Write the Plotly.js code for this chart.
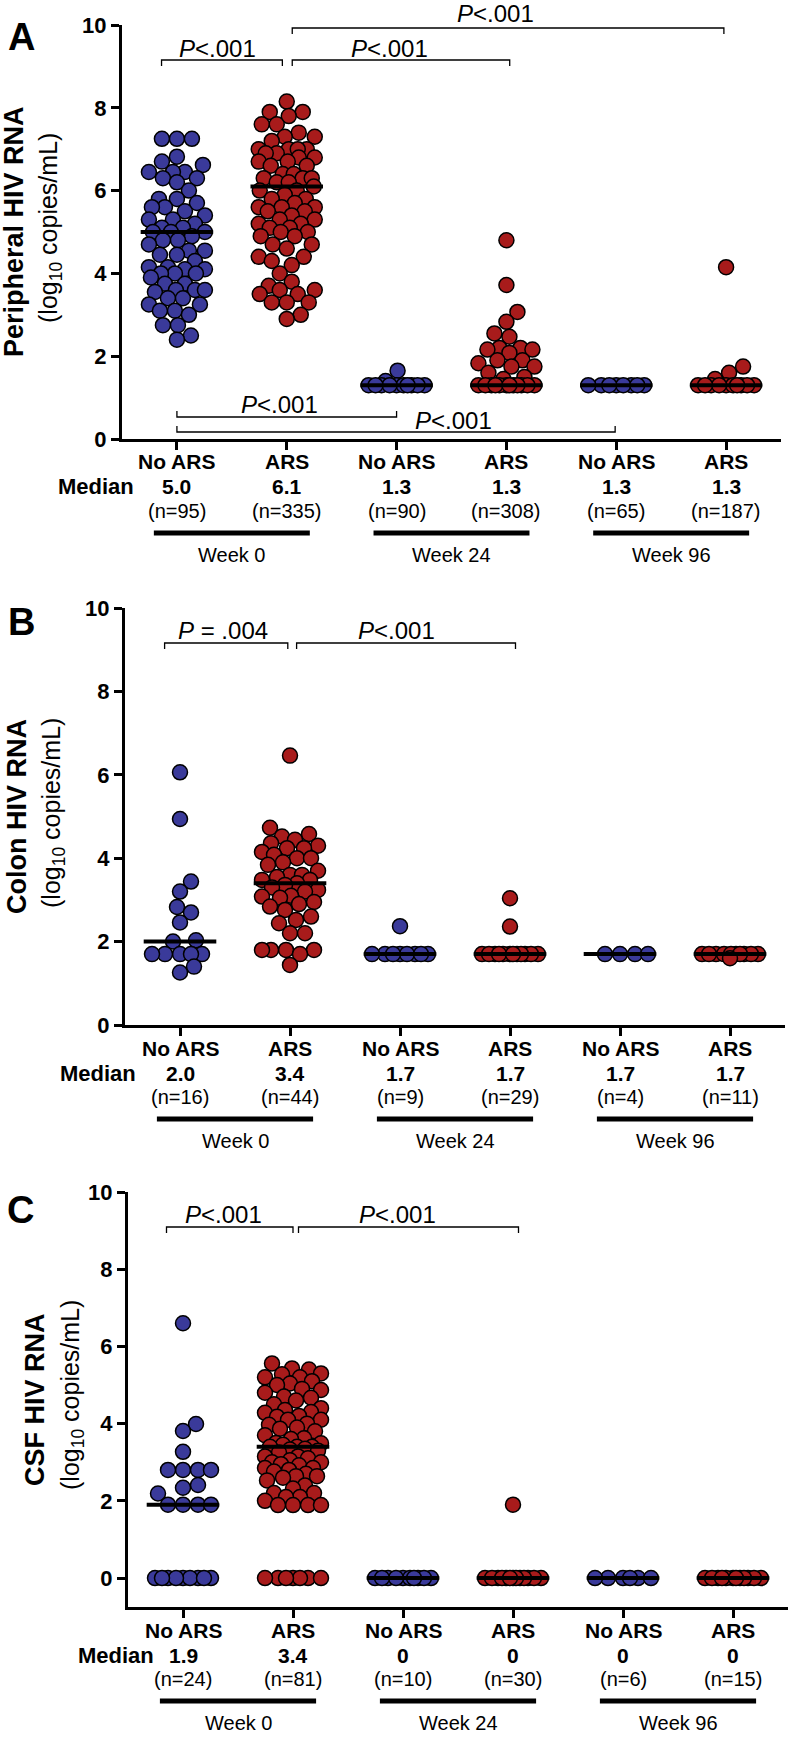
<!DOCTYPE html>
<html>
<head>
<meta charset="utf-8">
<script src="https://cdn.plot.ly/plotly-3.0.1.min.js"></script>
<style>
  body { margin: 0; background: #fff; }
  #chart { width: 792px; height: 1748px; }
</style>
</head>
<body>
<div id="chart"></div>
<script>
// ---- data ----
var categories = ['No ARS', 'ARS', 'No ARS', 'ARS', 'No ARS', 'ARS'];
var weeks = ['Week 0', 'Week 24', 'Week 96'];

// A: peripheral HIV RNA (log10 copies/mL)
var periph_noars_w0 = [7.25, 7.25, 7.25, 6.82, 6.7, 6.62, 6.45, 6.45, 6.45, 6.3, 6.3, 6.2, 6.0, 5.8, 5.8, 5.7,
  5.6, 5.6, 5.5, 5.4, 5.3, 5.3, 5.2, 5.1, 5.1, 5.0, 5.0, 5.0, 4.9, 4.8, 4.8, 4.7, 4.55, 4.55, 4.45, 4.45,
  4.3, 4.15, 4.15, 4.1, 4.1, 4.0, 4.0, 4.0, 3.9, 3.75, 3.75, 3.6, 3.6, 3.6, 3.55, 3.4, 3.4, 3.25, 3.25,
  3.1, 3.1, 3.0, 2.75, 2.75, 2.5, 2.4];
var periph_ars_w0 = [8.15, 7.9, 7.9, 7.8, 7.6, 7.6, 7.4, 7.3, 7.3, 7.2, 7.0, 7.0, 7.0, 7.0, 6.9, 6.9, 6.8, 6.8,
  6.7, 6.7, 6.6, 6.6, 6.4, 6.4, 6.3, 6.3, 6.3, 6.2, 6.2, 6.1, 6.0, 6.0, 5.9, 5.8, 5.8, 5.7, 5.6, 5.6, 5.6,
  5.5, 5.5, 5.4, 5.3, 5.3, 5.2, 5.2, 5.1, 5.1, 5.0, 5.0, 4.9, 4.9, 4.7, 4.7, 4.6, 4.4, 4.4, 4.3, 4.2, 4.0,
  3.8, 3.7, 3.6, 3.6, 3.5, 3.5, 3.3, 3.3, 3.3, 3.0, 2.9];
var periph_noars_w24 = [1.65, 1.4, 1.3, 1.3, 1.3, 1.3, 1.3, 1.3, 1.3, 1.3, 1.3, 1.3];
var periph_ars_w24 = [4.8, 3.72, 3.07, 2.83, 2.55, 2.47, 2.2, 2.2, 2.16, 2.16, 2.08, 1.9, 1.9, 1.83, 1.75, 1.75,
  1.6, 1.5, 1.45, 1.3, 1.3, 1.3, 1.3, 1.3, 1.3, 1.3, 1.3, 1.3, 1.3, 1.3, 1.3];
var periph_noars_w96 = [1.3, 1.3, 1.3, 1.3, 1.3, 1.3, 1.3, 1.3];
var periph_ars_w96 = [4.15, 1.75, 1.6, 1.45, 1.3, 1.3, 1.3, 1.3, 1.3, 1.3, 1.3, 1.3, 1.3, 1.3];
var medianA = [5.0, 6.1, 1.3, 1.3, 1.3, 1.3];
var medianA_txt = ['5.0', '6.1', '1.3', '1.3', '1.3', '1.3'];
var nA = [95, 335, 90, 308, 65, 187];

// B: colon HIV RNA
var colon_noars_w0 = [6.06, 4.94, 3.44, 3.2, 2.83, 2.7, 2.46, 2.03, 2.0, 1.7, 1.7, 1.7, 1.7, 1.7, 1.4, 1.26];
var colon_ars_w0 = [6.46, 4.73, 4.58, 4.52, 4.44, 4.36, 4.3, 4.24, 4.24, 4.15, 4.08, 4.0, 4.0, 3.9, 3.84, 3.7,
  3.6, 3.6, 3.55, 3.48, 3.48, 3.4, 3.36, 3.3, 3.24, 3.2, 3.1, 3.08, 3.05, 2.95, 2.9, 2.84, 2.76, 2.6, 2.52,
  2.44, 2.2, 2.2, 1.8, 1.8, 1.8, 1.8, 1.7, 1.44];
var colon_noars_w24 = [2.37, 1.7, 1.7, 1.7, 1.7, 1.7, 1.7, 1.7, 1.7];
var colon_ars_w24 = [3.04, 2.36, 1.7, 1.7, 1.7, 1.7, 1.7, 1.7, 1.7, 1.7, 1.7, 1.7, 1.7, 1.7];
var colon_noars_w96 = [1.7, 1.7, 1.7, 1.7];
var colon_ars_w96 = [1.7, 1.7, 1.7, 1.7, 1.7, 1.7, 1.7, 1.7, 1.7, 1.7, 1.6];
var medianB = [2.0, 3.4, 1.7, 1.7, 1.7, 1.7];
var medianB_txt = ['2.0', '3.4', '1.7', '1.7', '1.7', '1.7'];
var nB = [16, 44, 9, 29, 4, 11];

// C: CSF HIV RNA
var csf_noars_w0 = [6.6, 3.99, 3.81, 3.27, 2.8, 2.8, 2.8, 2.8, 2.41, 2.34, 2.19, 1.9, 1.9, 1.9, 1.9,
  0, 0, 0, 0, 0, 0, 0, 0, 0];
var csf_ars_w0 = [5.56, 5.43, 5.4, 5.3, 5.28, 5.2, 5.2, 5.1, 5.04, 5.0, 4.9, 4.87, 4.8, 4.7, 4.67, 4.6, 4.5,
  4.4, 4.35, 4.3, 4.28, 4.2, 4.18, 4.1, 4.1, 4.0, 3.97, 3.9, 3.87, 3.8, 3.7, 3.62, 3.6, 3.5, 3.49, 3.45,
  3.4, 3.4, 3.4, 3.35, 3.33, 3.3, 3.25, 3.15, 3.15, 3.1, 3.05, 3.0, 3.0, 2.95, 2.92, 2.85, 2.85, 2.8,
  2.76, 2.7, 2.64, 2.64, 2.6, 2.53, 2.4, 2.32, 2.2, 2.2, 2.1, 2.1, 2.0, 1.89, 1.89, 1.89, 1.89,
  0, 0, 0, 0, 0, 0, 0];
var csf_noars_w24 = [0, 0, 0, 0, 0, 0, 0, 0, 0, 0];
var csf_ars_w24 = [1.9, 0, 0, 0, 0, 0, 0, 0, 0, 0, 0, 0, 0, 0];
var csf_noars_w96 = [0, 0, 0, 0, 0, 0];
var csf_ars_w96 = [0, 0, 0, 0, 0, 0, 0, 0, 0, 0, 0, 0];
var medianC = [1.9, 3.4, 0, 0, 0, 0];
var medianC_txt = ['1.9', '3.4', '0', '0', '0', '0'];
var nC = [24, 81, 10, 30, 6, 15];

// ---- layout helpers ----
var W = 792, H = 1748;
function fy(p) { return 1 - p / H; }
var FONT = 'Liberation Sans, Arial, sans-serif';
var BLUE = '#3a3a9a', RED = '#a81b1b';

// spread points sideways so they don't sit on top of each other (pixels)
function swarm(vals, pxX, pxY) {
  var D = 14.5, maxW = 28;
  var order = vals.map(function (v, i) { return i; }).sort(function (a, b) { return vals[a] - vals[b]; });
  var placed = [], offs = [];
  order.forEach(function (i) {
    var y = vals[i] * pxY, best = 0, bestD = -1, found = false;
    for (var s = 0; s <= maxW && !found; s++) {
      var cands = s === 0 ? [0] : [s, -s];
      for (var c = 0; c < cands.length; c++) {
        var x = cands[c], md = Infinity;
        placed.forEach(function (p) {
          var d = Math.sqrt((p[0] - x) * (p[0] - x) + (p[1] - y) * (p[1] - y));
          if (d < md) md = d;
        });
        if (md >= D) { best = x; found = true; break; }
        if (md > bestD) { bestD = md; best = x; }
      }
    }
    placed.push([best, y]);
    offs[i] = best / pxX;
  });
  return offs;
}

var panels = [
  { sfx: '', groups: [periph_noars_w0, periph_ars_w0, periph_noars_w24, periph_ars_w24, periph_noars_w96, periph_ars_w96],
    med: medianA, medTxt: medianA_txt, n: nA, xdom: [122, 781], ytop: 25, ybot: 439, yrange: [0, 10], axisPx: 439,
    title: 'Peripheral HIV RNA', letter: 'A', letterPos: [21, 37], t1: [14, 232], t2: [50, 228], medianX: 56 },
  { sfx: '2', groups: [colon_noars_w0, colon_ars_w0, colon_noars_w24, colon_ars_w24, colon_noars_w96, colon_ars_w96],
    med: medianB, medTxt: medianB_txt, n: nB, xdom: [125, 785], ytop: 608, ybot: 1025, yrange: [0, 10], axisPx: 1025,
    title: 'Colon HIV RNA', letter: 'B', letterPos: [21, 622], t1: [17, 817], t2: [53, 813], medianX: 58 },
  { sfx: '3', groups: [csf_noars_w0, csf_ars_w0, csf_noars_w24, csf_ars_w24, csf_noars_w96, csf_ars_w96],
    med: medianC, medTxt: medianC_txt, n: nC, xdom: [128, 788], ytop: 1192, ybot: 1607, yrange: [-0.75, 10], axisPx: 1607,
    title: 'CSF HIV RNA', letter: 'C', letterPos: [20, 1210], t1: [35, 1400], t2: [72, 1395], medianX: 76 }
];

// significance brackets: [panel, x0, x1, ypx, dir(1 = ticks down), label, labelX, labelYpx]
var brackets = [
  [0, -0.14, 0.96, 60, 1, '<i>P</i>&lt;.001', 0.37, 48],
  [0, 1.05, 3.03, 60, 1, '<i>P</i>&lt;.001', 1.94, 48],
  [0, 1.05, 4.98, 28, 1, '<i>P</i>&lt;.001', 2.9, 13],
  [0, 0, 2.0, 417, -1, '<i>P</i>&lt;.001', 0.93, 404],
  [0, 0, 3.99, 432, -1, '<i>P</i>&lt;.001', 2.52, 420],
  [1, -0.14, 0.98, 643, 1, '<i>P</i> = .004', 0.39, 631],
  [1, 1.06, 3.05, 643, 1, '<i>P</i>&lt;.001', 1.97, 631],
  [2, -0.15, 1.0, 1227, 1, '<i>P</i>&lt;.001', 0.37, 1214],
  [2, 1.05, 3.05, 1227, 1, '<i>P</i>&lt;.001', 1.95, 1214]
];

var data = [], medTraces = [], shapes = [], annotations = [];
var layout = {
  width: W, height: H,
  margin: { l: 0, r: 0, t: 0, b: 0 },
  paper_bgcolor: '#fff', plot_bgcolor: 'rgba(0,0,0,0)',
  showlegend: false,
  font: { family: FONT, color: '#000' }
};

panels.forEach(function (p) {
  var pxX = (p.xdom[1] - p.xdom[0]) / 6;
  var pxY = (p.ybot - p.ytop) / (p.yrange[1] - p.yrange[0]);
  var xa = 'x' + p.sfx, ya = 'y' + p.sfx;

  layout['xaxis' + p.sfx] = {
    domain: [p.xdom[0] / W, p.xdom[1] / W], range: [-0.5, 5.5], anchor: ya,
    showline: true, linewidth: 3, linecolor: '#000', ticks: 'outside', ticklen: 8, tickwidth: 3, tickcolor: '#000',
    tickvals: [0, 1, 2, 3, 4, 5], showticklabels: false, showgrid: false, zeroline: false, fixedrange: true
  };
  layout['yaxis' + p.sfx] = {
    domain: [fy(p.ybot), fy(p.ytop)], range: p.yrange, anchor: xa,
    showline: true, linewidth: 3, linecolor: '#000', ticks: 'outside', ticklen: 8, tickwidth: 3, tickcolor: '#000',
    tickvals: [0, 2, 4, 6, 8, 10], tickfont: { family: FONT, size: 22, weight: 'bold', color: '#000' },
    showgrid: false, zeroline: false, fixedrange: true
  };

  p.groups.forEach(function (vals, g) {
    var offs = swarm(vals, pxX, pxY);
    data.push({
      type: 'scatter', mode: 'markers', xaxis: xa, yaxis: ya, hoverinfo: 'skip', cliponaxis: false,
      x: offs.map(function (o) { return g + o; }), y: vals,
      marker: { size: 15, color: g % 2 === 0 ? BLUE : RED, line: { color: '#000', width: 1.5 } }
    });
    medTraces.push({
      type: 'scatter', mode: 'lines', xaxis: xa, yaxis: ya, hoverinfo: 'skip', cliponaxis: false,
      x: [g - 0.33, g + 0.33], y: [p.med[g], p.med[g]], line: { color: '#000', width: 4 }
    });

    // labels under the axis
    annotations.push({ xref: xa, yref: 'paper', x: g, y: fy(p.axisPx + 23), text: '<b>' + categories[g] + '</b>',
      showarrow: false, yanchor: 'middle', font: { size: 21 } });
    annotations.push({ xref: xa, yref: 'paper', x: g, y: fy(p.axisPx + 48), text: '<b>' + p.medTxt[g] + '</b>',
      showarrow: false, yanchor: 'middle', font: { size: 21 } });
    annotations.push({ xref: xa, yref: 'paper', x: g, y: fy(p.axisPx + 72), text: '(n=' + p.n[g] + ')',
      showarrow: false, yanchor: 'middle', font: { size: 20 } });
  });

  annotations.push({ xref: 'paper', yref: 'paper', x: p.medianX / W, y: fy(p.axisPx + 48), text: '<b>Median</b>',
    showarrow: false, yanchor: 'middle', font: { size: 22 } });

  weeks.forEach(function (wk, k) {
    shapes.push({ type: 'line', xref: xa, yref: 'paper', x0: 2 * k - 0.21, x1: 2 * k + 1.21,
      y0: fy(p.axisPx + 94), y1: fy(p.axisPx + 94), line: { color: '#000', width: 5 } });
    annotations.push({ xref: xa, yref: 'paper', x: 2 * k + 0.5, y: fy(p.axisPx + 116), text: wk,
      showarrow: false, yanchor: 'middle', font: { size: 20 } });
  });

  // y titles and panel letter
  annotations.push({ xref: 'paper', yref: 'paper', x: p.t1[0] / W, y: fy(p.t1[1]), text: '<b>' + p.title + '</b>',
    textangle: -90, showarrow: false, xanchor: 'center', yanchor: 'middle', font: { size: 27 } });
  annotations.push({ xref: 'paper', yref: 'paper', x: p.t2[0] / W, y: fy(p.t2[1]), text: '(log<sub>10</sub> copies/mL)',
    textangle: -90, showarrow: false, xanchor: 'center', yanchor: 'middle', font: { size: 25 } });
  annotations.push({ xref: 'paper', yref: 'paper', x: p.letterPos[0] / W, y: fy(p.letterPos[1]), text: '<b>' + p.letter + '</b>',
    showarrow: false, xanchor: 'center', yanchor: 'middle', font: { size: 38 } });
});

brackets.forEach(function (b) {
  var xa = 'x' + panels[b[0]].sfx;
  var y = fy(b[3]), yt = fy(b[3] + 6 * b[4]);
  shapes.push({ type: 'path', xref: xa, yref: 'paper',
    path: 'M' + b[1] + ',' + yt + ' L' + b[1] + ',' + y + ' L' + b[2] + ',' + y + ' L' + b[2] + ',' + yt,
    line: { color: '#000', width: 1.3 } });
  annotations.push({ xref: xa, yref: 'paper', x: b[6], y: fy(b[7]), text: b[5], showarrow: false,
    yanchor: 'middle', font: { size: 24 } });
});

layout.shapes = shapes;
layout.annotations = annotations;

Plotly.newPlot('chart', data.concat(medTraces), layout, { displayModeBar: false, staticPlot: true });
</script>
</body>
</html>
